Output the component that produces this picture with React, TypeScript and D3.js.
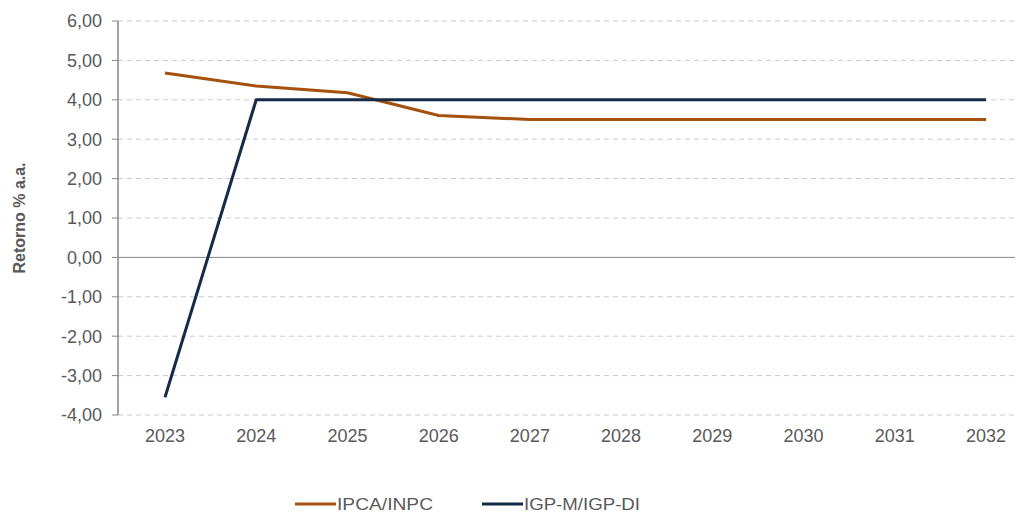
import React from "react";
import * as d3 from "d3";

const years = ["2023", "2024", "2025", "2026", "2027", "2028", "2029", "2030", "2031", "2032"];
const ipca = [4.68, 4.35, 4.18, 3.6, 3.5, 3.5, 3.5, 3.5, 3.5, 3.5];
const igpm = [-3.55, 4.0, 4.0, 4.0, 4.0, 4.0, 4.0, 4.0, 4.0, 4.0];
const yTicks = [-4, -3, -2, -1, 0, 1, 2, 3, 4, 5, 6];
const seriesNames = ["IPCA/INPC", "IGP-M/IGP-DI"];
const colors = ["#A5500C", "#152B47"];

export default function App() {
  const W = 1020, H = 514;
  const axisX = 118, gridEnd = 1015;
  const x = d3.scalePoint<string>().domain(years).range([165, 986]);
  const y = d3.scaleLinear().domain([-4, 6]).range([415, 21]);
  const fmt = (v: number) => v.toFixed(2).replace(".", ",");
  const line = d3.line<number>().x((_, i) => x(years[i])!).y((d) => y(d));
  const font = "'Liberation Sans', Arial, sans-serif";
  return (
    <svg width={W} height={H} style={{ position: "absolute", left: 0, top: 0 }} fontFamily={font}>
      <rect width={W} height={H} fill="#fff" />
      {yTicks.map((t) => (
        <g key={t}>
          {t !== 0 && (
            <line x1={axisX} x2={gridEnd} y1={y(t)} y2={y(t)} stroke="#c8c8c8" strokeDasharray="5,4" strokeWidth={1} />
          )}
          <line x1={axisX - 6} x2={axisX} y1={y(t)} y2={y(t)} stroke="#868686" strokeWidth={1} />
          <text x={axisX - 16} y={y(t)} dy="0.36em" textAnchor="end" fontSize={18} fill="#595959">
            {fmt(t)}
          </text>
        </g>
      ))}
      <line x1={axisX} x2={gridEnd} y1={y(0)} y2={y(0)} stroke="#868686" strokeWidth={1} />
      <line x1={axisX} x2={axisX} y1={y(6)} y2={y(-4)} stroke="#868686" strokeWidth={1.5} />
      {years.map((yr) => (
        <text key={yr} x={x(yr)} y={442} textAnchor="middle" fontSize={18} fill="#595959">
          {yr}
        </text>
      ))}
      <text
        transform={`translate(25,${y(1)}) rotate(-90)`}
        textAnchor="middle"
        fontSize={16}
        fontWeight="bold"
        fill="#595959"
      >
        Retorno % a.a.
      </text>
      <path d={line(ipca)!} fill="none" stroke={colors[0]} strokeWidth={3} strokeLinejoin="round" />
      <path d={line(igpm)!} fill="none" stroke={colors[1]} strokeWidth={3} strokeLinejoin="round" />
      {seriesNames.map((n, i) => {
        const lx = [295, 482][i];
        return (
          <g key={n}>
            <line x1={lx} x2={lx + 41} y1={504} y2={504} stroke={colors[i]} strokeWidth={3} />
            <text x={lx + 42} y={504} dy="0.35em" fontSize={16} fill="#595959" textLength={i === 0 ? 96 : 116} lengthAdjust="spacingAndGlyphs">
              {n}
            </text>
          </g>
        );
      })}
    </svg>
  );
}
